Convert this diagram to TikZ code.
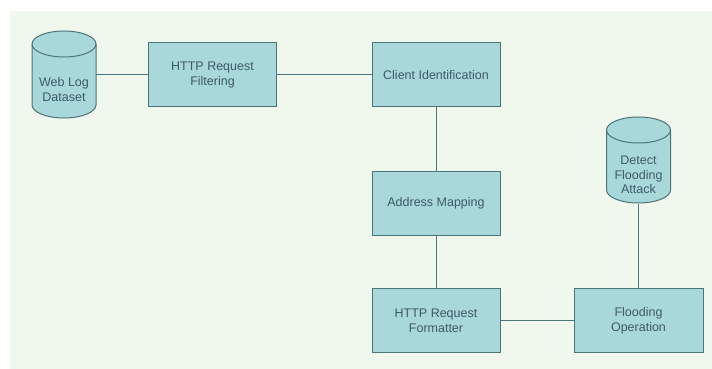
\documentclass[tikz,border=0pt]{standalone}
\usepackage{fontspec}
\setmainfont{Liberation Sans}
\usetikzlibrary{backgrounds}
\definecolor{bggreen}{HTML}{F0F8EE}
\definecolor{boxfill}{HTML}{A9D8DB}
\definecolor{boxline}{HTML}{4D7479}
\definecolor{txt}{HTML}{3E5A68}
\tikzset{
  proc/.style={rectangle, draw=boxline, fill=boxfill, line width=1pt, minimum width=128pt, minimum height=64pt, align=center, text=txt, font=\fontsize{12.5}{14.5}\selectfont, inner sep=0pt},
  dbhold/.style={rectangle, draw=none, minimum width=64pt, minimum height=87pt, inner sep=0pt},
  dbtext/.style={align=center, text=txt, font=\fontsize{12.5}{14.5}\selectfont, inner sep=0pt},
  link/.style={draw=boxline, line width=1pt},
  cylline/.style={draw=boxline, fill=boxfill, line width=1pt}
}
\newcommand{\mycyl}[3]{% #1 cx, #2 top Y, #3 bottom Y ; rx=32, ry=13
  \path[cylline] (#1-32,#2-13) -- (#1-32,#3+13) arc[start angle=180,end angle=360,x radius=32pt,y radius=13pt] -- (#1+32,#2-13) arc[start angle=0,end angle=180,x radius=32pt,y radius=13pt] -- cycle;
  \draw[boxline, line width=1pt] (#1-32,#2-13) arc[start angle=180,end angle=360,x radius=32pt,y radius=13pt];
}
\begin{document}
\begin{tikzpicture}[x=1pt,y=1pt]
\useasboundingbox (0,0) rectangle (712,369);

% placeholders for the cylinders
\node[dbhold] (web) at (64,294) {};
\node[dbhold] (detect) at (638.5,209) {};

% boxes
\node[proc] (filt) at (212.5,294) {HTTP Request\\Filtering};
\node[proc] (client) at (436,294) {Client Identification};
\node[proc] (addr) at (436,165.5) {Address Mapping};
\node[proc] (fmt) at (436,48) {HTTP Request\\Formatter};
\node[proc, minimum width=129pt] (flood) at (638.5,48) {Flooding\\Operation};

\begin{pgfonlayer}{background}
\fill[bggreen] (10,0) rectangle (712,358);
\draw[link] (web.east) -- (filt.west);
\draw[link] (filt.east) -- (client.west);
\draw[link] (client.south) -- (addr.north);
\draw[link] (addr.south) -- (fmt.north);
\draw[link] (fmt.east) -- (flood.west);
\draw[link] (detect.south) -- (flood.north);
\end{pgfonlayer}

% cylinders
\mycyl{64}{338}{251}
\mycyl{638.5}{252}{166}
\node[dbtext] (webtxt) at (64,279.5) {Web Log\\Dataset};
\node[dbtext] (dettxt) at (638.5,194) {Detect\\Flooding\\Attack};
\end{tikzpicture}
\end{document}
